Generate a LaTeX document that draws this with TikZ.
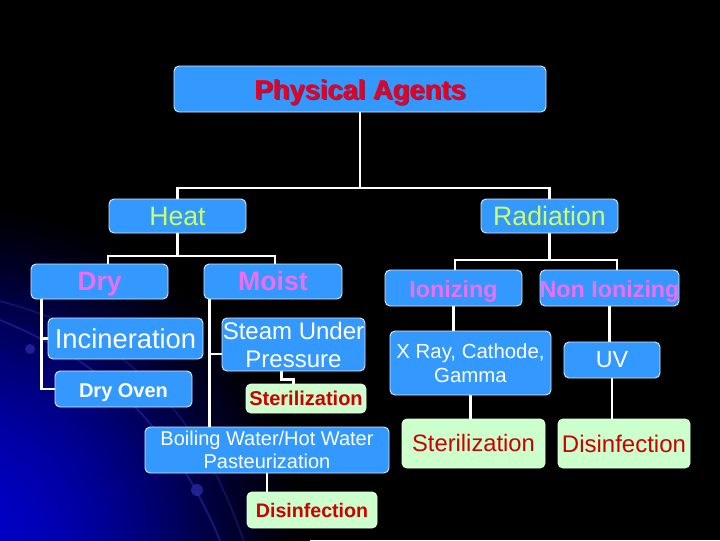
\documentclass[tikz,border=0pt]{standalone}
\usepackage{fontspec}
\setmainfont{Liberation Sans}
\usetikzlibrary{calc}
\definecolor{boxblue}{RGB}{51,153,255}
\definecolor{boxgreen}{RGB}{204,255,204}
\definecolor{boxedge}{RGB}{215,235,255}
\definecolor{headred}{RGB}{232,0,30}
\definecolor{headshadow}{RGB}{120,40,100}
\definecolor{leafred}{RGB}{204,0,0}
\definecolor{lime}{RGB}{204,255,102}
\definecolor{pinkish}{RGB}{238,110,240}
\definecolor{glowa}{RGB}{0,0,200}
\definecolor{arcblue}{RGB}{40,40,160}
\newcommand{\shadowed}[1]{\makebox[0pt][l]{\hspace{1.2pt}\raisebox{-1.2pt}{\textcolor{headshadow}{#1}}}#1}
\tikzset{main node/.style={rectangle,rounded corners=3.75pt,fill=boxblue,draw=boxedge,line width=0.7pt,inner sep=0pt,align=center,text=white},
         leaf node/.style={main node,fill=boxgreen,draw=boxgreen!60!white,text=leafred},
         boxsize/.style 2 args={minimum width=#1*0.75pt,minimum height=#2*0.75pt},
         link/.style={draw=white,line width=2.1pt},
            }

\begin{document}
\begin{tikzpicture}[x=0.75pt,y=-0.75pt]
    % background
    \useasboundingbox (0,0) rectangle (720,540);
    \fill[black] (0,0) rectangle (720,540);
    \begin{scope}
    \clip (0,0) rectangle (720,540);
    \foreach \r in {350,345,...,5} {
        \pgfmathsetmacro\k{100*(1-(\r/350)^2)^1.5}
        \fill[glowa!\k!black] (-40,545) circle (\r);
    }
    \draw[arcblue,line width=1.4pt,opacity=0.6] (-5,318) .. controls (100,360) and (170,420) .. (222,545);
    \draw[arcblue,line width=1.2pt,opacity=0.45] (-5,300) .. controls (120,330) and (200,410) .. (245,545);
    \fill[arcblue,opacity=0.8] (30,349) circle (5);
    \fill[arcblue,opacity=0.8] (197,490) circle (6);
    \end{scope}

    \node[main node,boxsize={372}{46},font=\fontsize{20.5}{24}\selectfont\bfseries,text=headred,text height=15.5pt,text depth=0.5pt] (1) at (360,89) {\shadowed{Physical Agents}};
    \node[main node,boxsize={137}{34},font=\fontsize{20}{24}\selectfont,text=lime] (2) at (177.5,216) {Heat};
    \node[main node,boxsize={137}{34},font=\fontsize{20}{24}\selectfont,text=lime] (3) at (549.5,216) {Radiation};
    \node[main node,boxsize={137}{35},font=\fontsize{20}{24}\selectfont\bfseries,text=pinkish,text height=14pt,text depth=1.2pt] (4) at (99.5,281.5) {Dry};
    \node[main node,boxsize={138}{35},font=\fontsize{20}{24}\selectfont\bfseries,text=pinkish,text height=14pt,text depth=1.2pt] (5) at (273,281.5) {Moist};
    \node[main node,boxsize={137}{36},font=\fontsize{17.5}{21}\selectfont\bfseries,text=pinkish,text height=14pt,text depth=0.5pt] (6) at (453.5,288) {Ionizing};
    \node[main node,boxsize={139}{36},font=\fontsize{17.5}{21}\selectfont\bfseries,text=pinkish,text height=14pt,text depth=0.5pt] (7) at (609.5,288) {\makebox[0pt]{Non Ionizing}};
    \node[main node,boxsize={155}{41},font=\fontsize{20.5}{24}\selectfont] (8) at (125.5,338.5) {Incineration};
    \node[main node,boxsize={137}{36},font=\fontsize{15}{18}\selectfont\bfseries,text height=12pt,text depth=0pt] (9) at (123.5,389) {Dry Oven};
    \node[main node,boxsize={143}{53},font=\fontsize{18}{21}\selectfont] (10) at (293.5,344.5) {\makebox[0pt]{Steam Under}\\Pressure};
    \node[leaf node,boxsize={120}{29},font=\fontsize{15}{18}\selectfont\bfseries] (11) at (306,398.5) {Sterilization};
    \node[main node,boxsize={244}{46},font=\fontsize{15}{17.25}\selectfont] (12) at (267,450) {Boiling Water/Hot Water\\Pasteurization};
    \node[leaf node,boxsize={130}{36},font=\fontsize{14.7}{18}\selectfont\bfseries] (13) at (312,510) {Disinfection};
    \node[main node,boxsize={161}{64},font=\fontsize{15.3}{18}\selectfont] (14) at (470.5,363) {X Ray, Cathode,\\Gamma};
    \node[main node,boxsize={96}{36},font=\fontsize{17.5}{21}\selectfont] (15) at (612,360) {UV};
    \node[leaf node,boxsize={143}{49},font=\fontsize{17.8}{21}\selectfont] (16) at (473.5,443.5) {Sterilization};
    \node[leaf node,boxsize={132}{49},font=\fontsize{18}{21}\selectfont] (17) at (624,443.5) {Disinfection};

    % bus points
    \coordinate (b1) at (360,188);
    \coordinate (b2) at (108,256);
    \coordinate (b3) at (275,256);
    \coordinate (b4) at (455,260);
    \coordinate (b5) at (617,260);
    \coordinate (d1) at ($(4.south west)+(11,0)$);
    \coordinate (m1) at ($(5.south west)+(6,0)$);

    \draw[link] (1.south) -- (b1);
    \draw[link] (2.north) |- (b1) -| (3.north);
    \draw[link] (2.south) -- (2.south |- b2);
    \draw[link] (b2 |- 4.north) -- (b2) -- (b3) -- (b3 |- 5.north);
    \draw[link] (3.south) -- (3.south |- b4);
    \draw[link] (b4 |- 6.north) -- (b4) -- (b5) -- (b5 |- 7.north);
    \draw[link] (d1) |- (8.west);
    \draw[link] (d1) |- (9.west);
    \draw[link] (m1) |- ($(10.west)+(0,9.5)$);
    \draw[link] ($(10.south)+(-12,0)$) |- ($(10.south)+(0,8)$) -- (10.south |- 11.north);

    \path[link]
    (m1) edge node {} (m1 |- 12.north)
    (12.south) edge node {} (12.south |- 13.north)
    (6.south) edge node {} (6.south |- 14.north)
    (14.south) edge node {} (14.south |- 16.north)
    (7.south) edge node {} (7.south |- 15.north)
    (15.south) edge node {} (15.south |- 17.north);
    
\end{tikzpicture}
\end{document}
